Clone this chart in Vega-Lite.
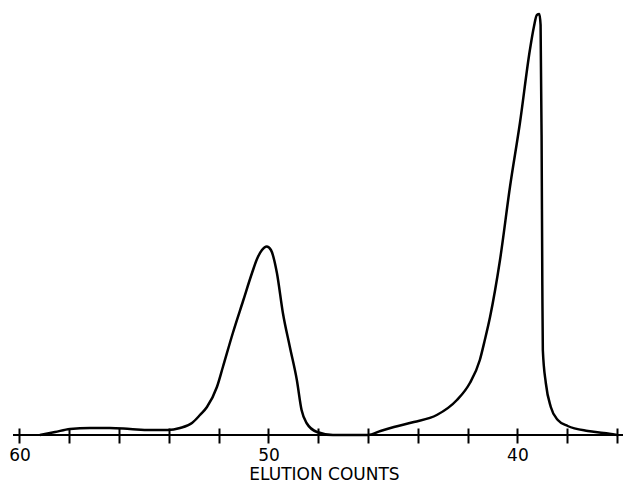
{
  "$schema": "https://vega.github.io/schema/vega-lite/v6.json",
  "width": 610,
  "height": 435,
  "autosize": {"type": "none"},
  "padding": {"left": 13, "top": 0, "right": 0, "bottom": 49},
  "background": "white",
  "config": {"view": {"stroke": null}},
  "datasets": {
    "baseline": [
      {"count": 35.76, "response": 0},
      {"count": 60.26, "response": 0}
    ],
    "trace": [
    {"count": 59.18, "response": 0},
    {"count": 58.57, "response": 3},
    {"count": 57.97, "response": 6},
    {"count": 57.17, "response": 7},
    {"count": 56.37, "response": 7},
    {"count": 55.56, "response": 6},
    {"count": 54.76, "response": 5},
    {"count": 54.04, "response": 5},
    {"count": 53.55, "response": 7},
    {"count": 53.07, "response": 12},
    {"count": 52.75, "response": 20},
    {"count": 52.47, "response": 28},
    {"count": 52.07, "response": 48},
    {"count": 51.83, "response": 68},
    {"count": 51.43, "response": 102},
    {"count": 51.02, "response": 134},
    {"count": 50.66, "response": 162},
    {"count": 50.46, "response": 176},
    {"count": 50.26, "response": 185},
    {"count": 50.07, "response": 188.5},
    {"count": 49.9, "response": 185},
    {"count": 49.66, "response": 162},
    {"count": 49.42, "response": 122},
    {"count": 49.14, "response": 88},
    {"count": 48.86, "response": 55},
    {"count": 48.67, "response": 25},
    {"count": 48.47, "response": 12},
    {"count": 48.05, "response": 3},
    {"count": 47.41, "response": 0},
    {"count": 46.45, "response": 0},
    {"count": 46.0, "response": 0},
    {"count": 45.5, "response": 4},
    {"count": 44.96, "response": 8},
    {"count": 44.16, "response": 13},
    {"count": 43.24, "response": 20},
    {"count": 42.43, "response": 35},
    {"count": 41.91, "response": 52},
    {"count": 41.51, "response": 75},
    {"count": 41.31, "response": 95},
    {"count": 41.1, "response": 118},
    {"count": 40.7, "response": 175},
    {"count": 40.3, "response": 248},
    {"count": 39.9, "response": 312},
    {"count": 39.5, "response": 385},
    {"count": 39.34, "response": 408},
    {"count": 39.22, "response": 420},
    {"count": 39.12, "response": 421},
    {"count": 39.07, "response": 410},
    {"count": 39.03, "response": 300},
    {"count": 39.0, "response": 150},
    {"count": 38.98, "response": 85},
    {"count": 38.86, "response": 52},
    {"count": 38.66, "response": 28},
    {"count": 38.38, "response": 15},
    {"count": 37.98, "response": 9},
    {"count": 37.17, "response": 4},
    {"count": 36.53, "response": 2},
    {"count": 36.0, "response": 0}
    ]
  },
  "encoding": {
    "x": {
      "field": "count",
      "type": "quantitative",
      "scale": {"domain": [35.76, 60.26], "reverse": true, "nice": false, "zero": false},
      "axis": {
        "title": "ELUTION COUNTS",
        "values": [36, 38, 40, 42, 44, 46, 48, 50, 52, 54, 56, 58, 60],
        "labelExpr": "datum.value % 10 == 0 ? datum.label : ''",
        "domain": false,
        "grid": false,
        "offset": -7,
        "tickSize": 15,
        "tickWidth": 2,
        "tickColor": "black",
        "labelFont": "DejaVu Sans",
        "labelFontSize": 17,
        "labelColor": "black",
        "labelPadding": 4,
        "labelFlush": false,
        "titleFont": "DejaVu Sans",
        "titleFontSize": 17,
        "titleFontWeight": "normal",
        "titleColor": "black",
        "titlePadding": 3,
        "titleX": 311
      }
    },
    "y": {
      "field": "response",
      "type": "quantitative",
      "scale": {"domain": [0, 435], "nice": false},
      "axis": null
    }
  },
  "layer": [
    {
      "data": {"name": "baseline"},
      "mark": {"type": "line", "color": "black", "strokeWidth": 2}
    },
    {
      "data": {"name": "trace"},
      "mark": {"type": "line", "color": "black", "strokeWidth": 2.5, "interpolate": "monotone"}
    }
  ]
}
